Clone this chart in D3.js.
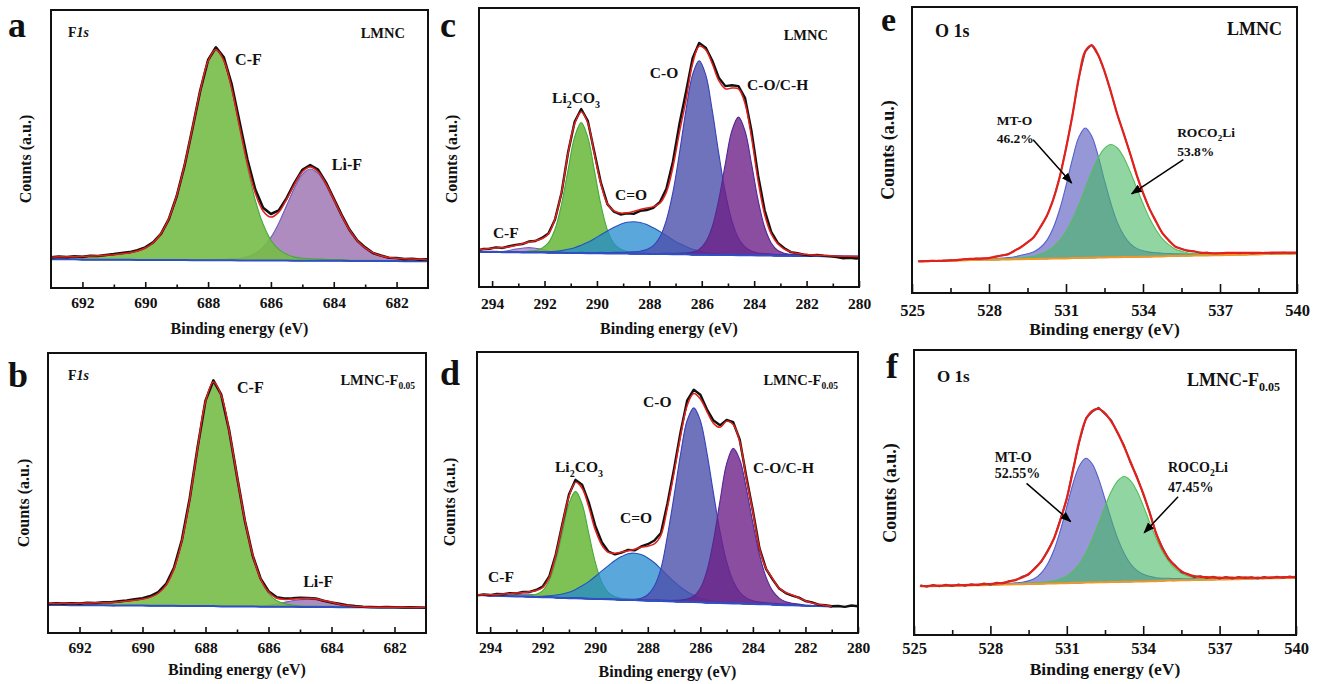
<!DOCTYPE html>
<html>
<head>
<meta charset="utf-8">
<script src="https://cdn.jsdelivr.net/npm/d3@7"></script>
<style>
  html, body { margin: 0; padding: 0; background: #fff; }
  svg { display: block; }
  text { font-family: "Liberation Serif", "Times New Roman", serif; font-weight: bold; fill: #111; }
</style>
</head>
<body>
<svg id="chart" width="1320" height="684"></svg>
<script>
// ---------- binding-energy grids (eV) ----------
const f1sEnergy = [693,692.75,692.5,692.25,692,691.75,691.5,691.25,691,690.75,690.5,690.25,690,689.75,689.5,689.25,689,688.75,688.5,688.25,688,687.75,687.5,687.25,687,686.75,686.5,686.25,686,685.75,685.5,685.25,685,684.75,684.5,684.25,684,683.75,683.5,683.25,683,682.75,682.5,682.25,682,681.75,681.5,681.25,681];
const c1sEnergyC = [294.6,294.35,294.1,293.85,293.6,293.35,293.1,292.85,292.6,292.35,292.1,291.85,291.6,291.35,291.1,290.85,290.6,290.35,290.1,289.85,289.6,289.35,289.1,288.85,288.6,288.35,288.1,287.85,287.6,287.35,287.1,286.85,286.6,286.35,286.1,285.85,285.6,285.35,285.1,284.85,284.6,284.35,284.1,283.85,283.6,283.35,283.1,282.85,282.6,282.35,282.1,281.85,281.6,281.35,281.1,280.85,280.6,280.35,280.1,279.85];
const c1sEnergyD = [294.5,294.25,294,293.75,293.5,293.25,293,292.75,292.5,292.25,292,291.75,291.5,291.25,291,290.75,290.5,290.25,290,289.75,289.5,289.25,289,288.75,288.5,288.25,288,287.75,287.5,287.25,287,286.75,286.5,286.25,286,285.75,285.5,285.25,285,284.75,284.5,284.25,284,283.75,283.5,283.25,283,282.75,282.5,282.25,282,281.75,281.5,281.25,281,280.75,280.5,280.25,280];
const o1sEnergy = [525.25,525.5,525.75,526,526.25,526.5,526.75,527,527.25,527.5,527.75,528,528.25,528.5,528.75,529,529.25,529.5,529.75,530,530.25,530.5,530.75,531,531.25,531.5,531.75,532,532.25,532.5,532.75,533,533.25,533.5,533.75,534,534.25,534.5,534.75,535,535.25,535.5,535.75,536,536.25,536.5,536.75,537,537.25,537.5,537.75,538,538.25,538.5,538.75,539,539.25,539.5,539.75,540];

// ---------- tick values ----------
const f1sMajorTicks = [692,690,688,686,684,682];
const f1sMinorTicks = [691,689,687,685,683];
const c1sMajorTicks = [294,292,290,288,286,284,282,280];
const c1sMinorTicks = [293,291,289,287,285,283,281];
const o1sMajorTicks = [525,528,531,534,537,540];
const o1sMinorTicks = [526.5,529.5,532.5,535.5,538.5];

// ---------- (a) F 1s, LMNC  (counts, a.u.) ----------
const aBackground = [10.3,10.3,10.3,10.3,10.2,10.2,10.2,10.2,10.2,10.2,10.2,10.1,10.1,10.1,10.1,10.1,10.1,10.1,10.0,10.0,10.0,10.0,10.0,10.0,9.9,9.9,9.9,9.9,9.9,9.9,9.9,9.8,9.8,9.8,9.8,9.8,9.8,9.8,9.7,9.7,9.7,9.7,9.7,9.7,9.7,9.6,9.6,9.6,9.6];
const aCF = [0.7,0.8,0.8,0.9,1.0,1.2,1.3,1.5,1.7,2.0,2.4,3.1,4.2,6.1,9.4,14.8,22.9,33.9,47.2,60.7,71.4,75.5,71.6,61.3,47.6,33.7,21.8,13.1,7.3,4.0,2.2,1.3,0.9,0.7,0.6,0.5,0.4,0.4,0.3,0.3,0.3,0.3,0.2,0.2,0.2,0.2,0.2,0.2,0.2];
const aLiF = [0.1,0.1,0.1,0.1,0.1,0.1,0.1,0.1,0.1,0.1,0.1,0.1,0.1,0.1,0.1,0.1,0.15,0.15,0.2,0.2,0.2,0.3,0.3,0.5,0.7,1.3,2.5,4.7,8.3,13.4,19.8,26.2,31.1,33.0,31.4,27.2,21.7,15.9,10.9,7.1,4.4,2.7,1.7,1.1,0.8,0.7,0.6,0.5,0.4];
const aFit = [11.1,11.2,11.2,11.3,11.3,11.5,11.6,11.8,12.0,12.3,12.7,13.3,14.4,16.3,19.6,25.0,33.2,44.2,57.4,70.9,81.6,85.8,81.9,71.8,58.2,44.9,34.2,27.7,25.5,27.3,31.9,37.3,41.8,43.5,41.8,37.5,31.9,26.1,20.9,17.1,14.4,12.7,11.6,11.0,10.7,10.5,10.4,10.3,10.2];
const aRaw = [11.0,11.3,11.1,11.4,11.2,11.6,11.5,11.9,12.2,12.6,12.9,13.6,14.6,16.4,19.5,24.8,33.0,44.0,57.3,71.0,82.0,86.6,83.0,73.3,59.8,46.3,35.5,28.9,26.6,27.9,32.3,37.8,42.5,44.2,42.6,38.0,32.2,26.3,21.0,17.1,14.6,12.6,11.7,10.9,10.8,10.4,10.5,10.2,10.3];

// ---------- (b) F 1s, LMNC-F0.05 ----------
const bBackground = [10.0,10.0,10.0,9.9,9.9,9.9,9.9,9.9,9.8,9.8,9.8,9.8,9.8,9.7,9.7,9.7,9.7,9.6,9.6,9.6,9.6,9.6,9.5,9.5,9.5,9.5,9.5,9.4,9.4,9.4,9.4,9.4,9.3,9.3,9.3,9.3,9.3,9.2,9.2,9.2,9.2,9.1,9.1,9.1,9.1,9.1,9.0,9.0,9.0];
const bCF = [0.45,0.5,0.55,0.6,0.7,0.8,0.9,1.0,1.1,1.3,1.6,1.9,2.3,3.1,4.5,7.4,13.2,23.3,38.3,56.5,73.0,80.0,75.3,62.8,46.6,30.8,18.2,9.7,4.8,2.2,1.1,0.6,0.4,0.3,0.3,0.2,0.2,0.2,0.1,0.1,0.1,0.1,0.1,0.1,0.1,0.1,0.1,0.1,0.1];
const bLiF = [0,0,0,0,0,0,0,0,0,0,0,0,0,0,0,0,0,0,0,0,0,0,0,0,0,0,0.1,0.2,0.5,0.9,1.5,2.1,2.6,2.8,2.6,2.1,1.5,0.9,0.5,0.2,0.1,0,0,0,0,0,0,0,0];
const bFit = [10.5,10.5,10.6,10.5,10.6,10.7,10.8,10.9,10.9,11.1,11.4,11.7,12.1,12.8,14.2,17.1,22.9,32.9,47.9,66.1,82.6,89.6,84.8,72.3,56.1,40.3,27.8,19.3,14.7,12.5,12.0,12.1,12.3,12.4,12.2,11.6,11.0,10.3,9.8,9.5,9.4,9.2,9.2,9.2,9.2,9.2,9.1,9.1,9.1];
const bRaw = [10.4,10.6,10.5,10.6,10.5,10.8,10.7,11.0,11.0,11.3,11.6,12.0,12.4,13.2,14.6,17.5,23.3,33.2,48.1,66.4,83.0,90.2,85.1,72.4,56.0,40.1,27.6,19.4,14.9,12.8,12.3,12.4,12.6,12.5,12.3,11.5,10.9,10.4,9.9,9.6,9.4,9.3,9.2,9.3,9.2,9.1,9.2,9.1,9.0];

// ---------- (c) C 1s, LMNC ----------
const cBackground = [12.7,12.6,12.6,12.6,12.5,12.5,12.5,12.4,12.4,12.4,12.4,12.3,12.3,12.3,12.2,12.2,12.2,12.1,12.1,12.1,12.0,12.0,12.0,12.0,11.9,11.9,11.9,11.8,11.8,11.8,11.7,11.7,11.7,11.6,11.6,11.6,11.5,11.5,11.5,11.5,11.4,11.4,11.4,11.3,11.3,11.3,11.2,11.2,11.2,11.1,11.1,11.1,11.1,11.0,11.0,11.0,10.9,10.9,10.9,10.8];
const cCF = [0,0,0,0.1,0.2,0.6,1.1,1.5,1.7,1.5,1.1,0.6,0.2,0.1,0,0,0,0,0,0,0,0,0,0,0,0,0,0,0,0,0,0,0,0,0,0,0,0,0,0,0,0,0,0,0,0,0,0,0,0,0,0,0,0,0,0,0,0,0,0];
const cLi2CO3 = [0.1,0.1,0.1,0.1,0.2,0.2,0.3,0.3,0.5,0.7,1.5,3.6,8.4,17.4,29.8,41.6,46.7,41.6,29.8,17.4,8.4,3.6,1.5,0.7,0.5,0.3,0.3,0.2,0.2,0.1,0.1,0.1,0.1,0.1,0.1,0.1,0,0,0,0,0,0,0,0,0,0,0,0,0,0,0,0,0,0,0,0,0,0,0,0];
const cCdO = [0,0,0,0,0,0,0,0,0,0.1,0.2,0.3,0.5,0.8,1.3,1.9,2.8,3.9,5.2,6.6,8.1,9.4,10.5,11.2,11.5,11.2,10.5,9.4,8.1,6.6,5.2,3.9,2.8,1.9,1.3,0.8,0.5,0.3,0.2,0.1,0,0,0,0,0,0,0,0,0,0,0,0,0,0,0,0,0,0,0,0];
const cCO = [0,0,0,0,0,0,0,0,0,0,0.1,0.1,0.1,0.1,0.1,0.1,0.2,0.2,0.2,0.3,0.3,0.4,0.4,0.5,0.7,0.9,1.5,3.0,6.1,12.2,22.3,36.3,51.8,64.5,69.5,64.5,51.8,36.3,22.3,12.2,6.1,3.0,1.5,0.9,0.7,0.5,0.4,0.4,0.3,0.3,0.1,0.1,0.1,0.1,0.1,0.1,0.1,0.1,0.1,0.1];
const cCOCH = [0,0,0,0,0,0,0,0,0,0,0,0,0,0,0,0,0,0,0,0,0.1,0.1,0.1,0.1,0.1,0.1,0.1,0.2,0.2,0.3,0.3,0.4,0.5,0.9,1.9,4.5,10.1,19.8,32.7,44.5,49.5,44.5,32.7,19.8,10.1,4.5,1.9,0.9,0.5,0.4,0.3,0.3,0.1,0.1,0.1,0,0,0,0,0];
const cFit = [13.2,13.5,13.8,14.0,14.1,14.4,14.9,15.5,16.1,16.6,17.3,19.0,24.5,34.0,48.0,58.5,62.8,58.8,47.8,37.0,29.8,27.3,26.5,26.6,27.1,27.8,28.3,28.8,30.0,34.0,43.0,55.5,67.0,80.0,86.3,85.0,80.0,74.0,71.0,71.3,71.0,65.8,53.5,38.0,26.0,19.0,15.5,13.6,12.6,12.0,11.7,11.5,11.4,11.3,11.2,11.1,11.0,11.0,10.9,10.9];
const cRaw = [13.0,13.6,13.7,14.2,14.0,14.6,15.1,15.4,16.3,16.5,17.6,19.2,24.2,33.8,48.3,59.2,63.8,59.6,48.4,37.4,29.7,27.0,26.0,26.4,26.2,27.3,27.6,28.4,30.4,35.2,45.0,58.5,70.0,82.0,87.5,85.8,81.2,75.0,72.0,72.3,72.0,67.8,55.8,40.0,27.5,19.8,15.8,13.9,12.5,12.1,11.6,11.3,11.5,11.2,11.0,10.7,10.3,10.5,10.2,10.6];

// ---------- (d) C 1s, LMNC-F0.05 (fit range ends at 281 eV) ----------
const dBackground = [13.5,13.4,13.3,13.3,13.2,13.1,13.0,13.0,12.9,12.8,12.7,12.7,12.6,12.5,12.4,12.4,12.3,12.2,12.1,12.1,12.0,11.9,11.8,11.8,11.7,11.6,11.5,11.5,11.4,11.3,11.2,11.1,11.1,11.0,10.9,10.8,10.8,10.7,10.6,10.5,10.5,10.4,10.3,10.2,10.2,10.1,10.0,9.9,9.9,9.8,9.7,9.6,9.6,9.5,9.4];
const dCF = [0,0,0,0,0.1,0.3,0.6,0.8,0.9,0.8,0.6,0.3,0.1,0,0,0,0,0,0,0,0,0,0,0,0,0,0,0,0,0,0,0,0,0,0,0,0,0,0,0,0,0,0,0,0,0,0,0,0,0,0,0,0,0,0];
const dLi2CO3 = [0.1,0.1,0.1,0.1,0.2,0.2,0.3,0.3,0.5,1.0,2.4,6.0,13.1,23.4,33.6,38.0,33.6,23.4,13.1,6.0,2.4,1.0,0.5,0.3,0.3,0.2,0.2,0.1,0.1,0.1,0.1,0.1,0.1,0.1,0.1,0.1,0,0,0,0,0,0,0,0,0,0,0,0,0,0,0,0,0,0,0];
const dCdO = [0,0,0,0,0,0,0,0,0.1,0.2,0.3,0.5,0.9,1.4,2.1,3.1,4.5,6.1,8.0,10.0,12.0,13.9,15.4,16.4,16.7,16.3,15.2,13.5,11.4,9.2,7.1,5.2,3.6,2.4,1.5,0.9,0.5,0.3,0.2,0.1,0,0,0,0,0,0,0,0,0,0,0,0,0,0,0];
const dCO = [0,0,0,0,0,0,0,0,0,0,0,0,0,0,0,0,0,0,0,0,0,0,0,0.1,0.3,0.8,2.1,5.2,11.5,23.4,37.6,52.7,64.6,69.1,64.7,53.3,38.9,25.3,14.8,7.9,4.0,2.1,1.2,0.8,0.6,0.5,0.4,0.4,0.3,0.3,0.1,0.1,0.1,0.1,0.1];
const dCOCH = [0,0,0,0,0,0,0,0,0,0,0,0,0,0,0,0.1,0.1,0.1,0.1,0.1,0.1,0.1,0.1,0.1,0.1,0.2,0.2,0.2,0.3,0.3,0.4,0.6,1.0,2.1,5.0,11.3,22.1,36.4,49.6,55.2,51.2,41.1,28.8,17.7,9.7,4.9,2.4,1.2,0.7,0.5,0.2,0.2,0.1,0.1,0];
const dFit = [13.5,13.6,13.6,13.7,13.9,14.0,14.2,14.4,14.7,15.1,16.2,19.8,27.8,38.5,48.6,53.6,51.5,45.0,36.7,31.3,28.7,28.4,28.8,29.3,29.8,30.5,30.9,31.7,34.8,44.8,57.0,70.2,81.0,85.2,83.3,78.8,74.6,73.2,75.4,74.2,68.1,55.0,43.2,30.1,23.0,19.4,15.9,14.4,13.5,12.5,11.5,10.7,10.2,9.8,9.5];
const dRaw = [13.4,13.7,13.5,13.9,13.8,14.2,14.1,14.6,14.6,15.3,16.5,20.1,28.0,38.9,49.3,54.5,52.8,46.6,38.2,32.3,29.0,28.0,28.6,29.6,29.4,30.8,31.6,32.9,35.6,46.2,58.5,71.6,82.8,86.6,84.8,79.6,75.6,73.9,75.8,75.0,68.8,55.6,43.5,30.2,22.8,19.1,15.8,14.2,13.3,12.6,11.4,10.9,10.1,9.9,9.5,9.6,9.3,9.8,9.5];

// ---------- (e) O 1s, LMNC ----------
const eBackground = [11.1,11.1,11.2,11.2,11.3,11.3,11.4,11.4,11.5,11.5,11.6,11.6,11.6,11.7,11.7,11.8,11.8,11.9,11.9,12.0,12.0,12.1,12.1,12.1,12.2,12.2,12.3,12.3,12.4,12.4,12.5,12.5,12.6,12.6,12.6,12.7,12.7,12.8,12.8,12.9,12.9,13.0,13.0,13.1,13.1,13.1,13.2,13.2,13.3,13.3,13.4,13.4,13.5,13.5,13.6,13.6,13.6,13.7,13.7,13.8];
const eMTO = [0.1,0.1,0.1,0.1,0.1,0.1,0.2,0.2,0.2,0.2,0.3,0.3,0.4,0.5,0.7,0.9,1.4,1.8,2.5,3.9,6.4,10.6,17.0,25.4,34.6,42.3,45.4,42.6,35.6,26.9,18.8,12.2,7.6,4.7,3.0,2.1,1.6,1.3,1.1,0.9,0.8,0.7,0.6,0.55,0.5,0.45,0.4,0.35,0.35,0.3,0.3,0.25,0.25,0.2,0.2,0.2,0.2,0.2,0.2,0.2];
const eROCO = [0,0,0,0,0,0,0,0,0,0,0.2,0.2,0.3,0.3,0.3,0.4,0.5,0.7,1.0,1.6,2.5,4.0,6.2,9.4,13.5,18.6,24.2,29.9,34.8,38.2,39.4,38.2,34.8,29.9,24.2,18.6,13.5,9.4,6.2,4.0,2.5,1.6,1.0,0.7,0.5,0.4,0.3,0.3,0.3,0.2,0.2,0.1,0.1,0.1,0.1,0.1,0.1,0.1,0.1,0.1];
const eFit = [11.1,11.1,11.2,11.2,11.3,11.4,11.5,11.8,11.9,12.0,12.1,12.2,12.7,13.1,13.6,14.8,16.1,17.7,19.6,23.0,26.9,32.6,40.4,50.5,62.1,75.2,84.5,86.6,83.3,77.5,70.3,62.4,55.7,48.7,41.4,35.0,29.5,25.1,21.0,18.4,16.3,15.4,14.8,14.5,14.1,14.0,13.9,13.9,14.0,14.0,14.0,14.0,14.0,14.0,14.0,14.1,14.1,14.1,14.1,14.1];
const eRaw = [11.0,11.2,11.1,11.3,11.2,11.5,11.4,11.8,11.8,12.1,12.0,12.3,12.6,13.2,13.5,14.9,16.0,17.8,19.5,23.1,26.8,32.7,40.3,50.6,62.0,75.3,84.4,86.8,83.2,77.6,70.2,62.5,55.6,48.8,41.3,35.1,29.4,25.2,20.9,18.5,16.2,15.5,14.7,14.6,14.0,14.2,13.8,14.0,13.9,14.1,13.8,14.0,13.7,13.9,14.1,13.8,14.0,14.2,13.9,14.1];

// ---------- (f) O 1s, LMNC-F0.05 ----------
const fBackground = [17.0,17.1,17.1,17.2,17.2,17.3,17.3,17.4,17.4,17.5,17.5,17.6,17.6,17.7,17.7,17.8,17.8,17.9,17.9,18.0,18.1,18.1,18.2,18.2,18.3,18.3,18.4,18.4,18.5,18.5,18.6,18.6,18.7,18.7,18.8,18.8,18.9,18.9,19.0,19.1,19.1,19.2,19.2,19.3,19.3,19.4,19.4,19.5,19.5,19.6,19.6,19.7,19.7,19.8,19.8,19.9,19.9,20.0,20.0,20.1];
const fMTO = [0.1,0.1,0.1,0.1,0.1,0.1,0.1,0.1,0.1,0.2,0.2,0.2,0.3,0.3,0.4,0.5,0.7,1.1,2.0,3.8,6.9,11.8,18.6,26.8,35.0,41.2,43.6,41.6,36.3,29.2,21.8,15.2,10.0,6.3,3.9,2.5,1.7,1.2,0.9,0.8,0.7,0.6,0.5,0.5,0.4,0.4,0.4,0.3,0.3,0.3,0.3,0.3,0.3,0.2,0.2,0.2,0.2,0.2,0.2,0.2];
const fROCO = [0,0,0,0,0,0,0,0,0,0,0.1,0.1,0.1,0.2,0.2,0.2,0.3,0.3,0.4,0.5,0.6,0.9,1.5,2.5,4.2,6.8,10.4,15.2,20.7,26.6,31.8,35.5,36.9,35.5,31.8,26.6,20.7,15.2,10.4,6.8,4.2,2.5,1.5,0.9,0.6,0.5,0.4,0.3,0.3,0.2,0.2,0.2,0.1,0.1,0.1,0.1,0.1,0.1,0.1,0.1];
const fFit = [17.2,17.2,17.3,17.3,17.4,17.4,17.5,17.5,17.6,17.7,17.8,17.9,18.1,18.3,18.8,19.4,20.2,21.4,23.3,25.9,29.4,34.0,40.4,48.0,58.0,68.4,75.7,78.6,79.3,77.8,74.9,71.0,66.1,60.8,55.3,49.7,42.9,35.9,30.4,26.8,24.2,22.4,21.2,20.7,20.4,20.3,20.2,20.1,20.1,20.1,20.1,20.2,20.1,20.1,20.1,20.2,20.2,20.3,20.3,20.4];
const fRaw = [17.5,16.9,17.6,17.0,17.7,17.1,17.8,17.2,17.9,17.4,18.1,17.6,18.4,18.1,19.0,19.2,20.5,21.2,23.6,25.7,29.7,33.8,40.7,47.7,58.4,68.1,76.1,78.3,79.8,77.5,75.3,70.7,66.5,60.4,55.7,49.4,43.3,35.6,30.8,26.5,24.5,22.0,21.5,20.3,20.7,19.9,20.5,19.8,20.4,19.8,20.4,19.9,20.3,19.8,20.4,19.9,20.5,20.0,20.6,20.1];

// ---------- colours of the fitted components ----------
const palette = {
  greenF:   { fill: "rgb(118,189,72)",  opacity: 0.9,  stroke: "rgb(72,168,62)" },
  purpleF:  { fill: "rgb(168,130,186)", opacity: 0.92, stroke: "rgb(105,95,190)" },
  cfSmall:  { fill: "rgb(160,120,200)", opacity: 0.7,  stroke: "rgb(120,90,190)" },
  li2co3:   { fill: "rgb(108,184,62)",  opacity: 0.88, stroke: "rgb(70,170,60)" },
  cdo:      { fill: "rgb(35,138,207)",  opacity: 0.75, stroke: "rgb(40,80,190)" },
  co:       { fill: "rgb(75,80,170)",   opacity: 0.8,  stroke: "rgb(55,65,185)" },
  coch:     { fill: "rgb(109,32,135)",  opacity: 0.8,  stroke: "rgb(85,40,150)" },
  mto:      { fill: "rgb(140,142,212)", opacity: 0.92, stroke: "rgb(85,95,205)" },
  roco:     { fill: "rgb(70,185,100)",  opacity: 0.6,  stroke: "rgb(85,190,90)" }
};

// label fragments (sub = subscript, it = italic)
const T = (t, o) => Object.assign({ t }, o || {});

const panels = [
  { letter: "a", letterPos: [8, 37], letterSize: 36, box: [51, 10, 428, 288], domain: [693, 681], energy: f1sEnergy,
    background: aBackground, fit: aFit, raw: aRaw, baseColor: "#2f4fc4",
    components: [ { values: aLiF, style: palette.purpleF }, { values: aCF, style: palette.greenF } ],
    major: f1sMajorTicks, minor: f1sMinorTicks, tickLen: [6, 3.5], tickGap: 9, tickFont: 15.5,
    xTitle: { baseline: 334, size: 16 }, yTitle: { x: 25, y: 159, size: 16 },
    corner: [ { segs: [T("F"), T("1s", { it: true })], dx: 17, dy: 27, anchor: "start", size: 14 },
              { segs: [T("LMNC")], dx: -23, dy: 28, anchor: "end", size: 14.5 } ],
    peaks: [ { segs: [T("C-F")], at: [687.14, 80.2], size: 16 },
             { segs: [T("Li-F")], at: [684.06, 42.4], size: 16 } ],
    arrows: [], rawStyle: { color: "#111", width: 2.6 }, fitWidth: 1.5 },

  { letter: "b", letterPos: [8, 387], letterSize: 36, box: [48, 353, 426, 633], domain: [693, 681], energy: f1sEnergy,
    background: bBackground, fit: bFit, raw: bRaw, baseColor: "#2f4fc4",
    components: [ { values: bLiF, style: palette.purpleF }, { values: bCF, style: palette.greenF } ],
    major: f1sMajorTicks, minor: f1sMinorTicks, tickLen: [6, 3.5], tickGap: 9, tickFont: 15.5,
    xTitle: { baseline: 675, size: 16 }, yTitle: { x: 23, y: 503, size: 16 },
    corner: [ { segs: [T("F"), T("1s", { it: true })], dx: 20, dy: 27, anchor: "start", size: 14 },
              { segs: [T("LMNC-F"), T("0.05", { sub: true })], dx: -11, dy: 32, anchor: "end", size: 14.5, subSize: 9.5 } ],
    peaks: [ { segs: [T("C-F")], at: [687.0, 85.7], size: 16 },
             { segs: [T("Li-F")], at: [684.9, 16.4], size: 16 } ],
    arrows: [], rawStyle: { color: "#111", width: 2.6 }, fitWidth: 1.5 },

  { letter: "c", letterPos: [440, 37], letterSize: 36, box: [479, 8, 859, 287], domain: [294.5, 280], energy: c1sEnergyC,
    background: cBackground, fit: cFit, raw: cRaw, baseColor: "#2f4fc4",
    components: [ { values: cCF, style: palette.cfSmall }, { values: cLi2CO3, style: palette.li2co3 },
                  { values: cCdO, style: palette.cdo }, { values: cCO, style: palette.co },
                  { values: cCOCH, style: palette.coch } ],
    major: c1sMajorTicks, minor: c1sMinorTicks, tickLen: [6, 3.5], tickGap: 10.5, tickFont: 15.5,
    xTitle: { baseline: 334, size: 16 }, yTitle: { x: 451, y: 159, size: 16 },
    corner: [ { segs: [T("LMNC")], dx: -31, dy: 32, anchor: "end", size: 14.5 } ],
    peaks: [ { segs: [T("Li"), T("2", { sub: true }), T("CO"), T("3", { sub: true })], at: [291.71, 66.0], size: 15.5, subSize: 10 },
             { segs: [T("C-O")], at: [287.98, 74.9], size: 15.5 },
             { segs: [T("C-O/C-H")], at: [284.27, 70.6], size: 15.5 },
             { segs: [T("C=O")], at: [289.31, 31.2], size: 15.5 },
             { segs: [T("C-F")], at: [293.97, 17.6], size: 15.5 } ],
    arrows: [], rawStyle: { color: "#111", width: 2.4 }, fitWidth: 1.5 },

  { letter: "d", letterPos: [440, 385], letterSize: 36, box: [477, 352, 858, 633], domain: [294.5, 280], energy: c1sEnergyD,
    background: dBackground, fit: dFit, raw: dRaw, baseColor: "#2f4fc4",
    components: [ { values: dCF, style: palette.cfSmall }, { values: dLi2CO3, style: palette.li2co3 },
                  { values: dCdO, style: palette.cdo }, { values: dCO, style: palette.co },
                  { values: dCOCH, style: palette.coch } ],
    major: c1sMajorTicks, minor: c1sMinorTicks, tickLen: [6, 3.5], tickGap: 9, tickFont: 15.5,
    xTitle: { baseline: 677, size: 16 }, yTitle: { x: 449, y: 502, size: 16 },
    corner: [ { segs: [T("LMNC-F"), T("0.05", { sub: true })], dx: -20, dy: 33, anchor: "end", size: 14.5, subSize: 9.5 } ],
    peaks: [ { segs: [T("C-O")], at: [288.18, 80.4], size: 15.5 },
             { segs: [T("Li"), T("2", { sub: true }), T("CO"), T("3", { sub: true })], at: [291.53, 57.3], size: 15.5, subSize: 10 },
             { segs: [T("C=O")], at: [289.06, 39.1], size: 15.5 },
             { segs: [T("C-O/C-H")], at: [284.0, 56.9], size: 15.5 },
             { segs: [T("C-F")], at: [294.08, 18.1], size: 15.5 } ],
    arrows: [], rawStyle: { color: "#111", width: 2.4 }, fitWidth: 1.5 },

  { letter: "e", letterPos: [881, 31], letterSize: 34, box: [912, 7, 1297, 293], domain: [525, 540], energy: o1sEnergy,
    background: eBackground, fit: eFit, raw: eRaw, baseColor: "#f0962a",
    components: [ { values: eMTO, style: palette.mto }, { values: eROCO, style: palette.roco } ],
    major: o1sMajorTicks, minor: o1sMinorTicks, tickLen: [9, 5], tickGap: 11.5, tickFont: 16.5,
    xTitle: { baseline: 335, size: 17.5 }, yTitle: { x: 888, y: 150, size: 18 },
    corner: [ { segs: [T("O 1s")], dx: 23, dy: 30, anchor: "start", size: 18 },
              { segs: [T("LMNC")], dx: -15, dy: 28, anchor: "end", size: 18 } ],
    peaks: [ { segs: [T("MT-O")], at: [528.30, 58.8], size: 13.5 },
             { segs: [T("46.2%")], at: [528.30, 52.6], size: 13.5 },
             { segs: [T("ROCO"), T("2", { sub: true }), T("Li")], at: [535.33, 54.7], size: 13.5, subSize: 9 },
             { segs: [T("53.8%")], at: [535.33, 48.0], size: 13.5 } ],
    arrows: [ [[529.72, 53.6], [531.22, 38.5]], [[535.57, 46.6], [533.56, 34.7]] ],
    rawStyle: { color: "#555", width: 1.5 }, fitWidth: 2.2 },

  { letter: "f", letterPos: [886, 378], letterSize: 36, box: [914, 350, 1296, 635], domain: [525, 540], energy: o1sEnergy,
    background: fBackground, fit: fFit, raw: fRaw, baseColor: "#f0962a",
    components: [ { values: fMTO, style: palette.mto }, { values: fROCO, style: palette.roco } ],
    major: o1sMajorTicks, minor: o1sMinorTicks, tickLen: [9, 5], tickGap: 7, tickFont: 16.5,
    xTitle: { baseline: 675, size: 17.5 }, yTitle: { x: 890, y: 493, size: 18 },
    corner: [ { segs: [T("O 1s")], dx: 23, dy: 32, anchor: "start", size: 17 },
              { segs: [T("LMNC-F"), T("0.05", { sub: true })], dx: -16, dy: 36, anchor: "end", size: 18, subSize: 12 } ],
    peaks: [ { segs: [T("MT-O")], at: [528.17, 60.7], size: 14 },
             { segs: [T("52.55%")], at: [528.17, 55.1], size: 14 },
             { segs: [T("ROCO"), T("2", { sub: true }), T("Li")], at: [534.97, 57.2], size: 14, subSize: 9.5 },
             { segs: [T("47.45%")], at: [534.97, 50.2], size: 14 } ],
    arrows: [ [[529.42, 53.2], [531.15, 39.8]], [[535.37, 48.5], [534.04, 35.9]] ],
    rawStyle: { color: "#4a4a4a", width: 1.7 }, fitWidth: 2.2 }
];

const svg = d3.select("#chart");
const defs = svg.append("defs");
defs.append("marker")
  .attr("id", "arrowhead").attr("viewBox", "0 0 10 10")
  .attr("refX", 9).attr("refY", 5)
  .attr("markerWidth", 11).attr("markerHeight", 11)
  .attr("markerUnits", "userSpaceOnUse").attr("orient", "auto")
  .append("path").attr("d", "M0,1.2 L10,5 L0,8.8 Z").attr("fill", "#000");

// writes a run of text fragments (plain, italic, subscript) into a <text>
function writeSegments(textSel, segs, size, subSize) {
  const shift = size * 0.3;
  let lowered = false;
  segs.forEach(s => {
    const ts = textSel.append("tspan").text(s.t);
    if (s.it) ts.attr("font-style", "italic");
    if (s.sub) {
      ts.attr("font-size", subSize || size * 0.65);
      if (!lowered) { ts.attr("dy", shift); lowered = true; }
    } else if (lowered) {
      ts.attr("dy", -shift); lowered = false;
    }
  });
}

panels.forEach(p => {
  const [x0, y0, x1, y1] = p.box;
  const x = d3.scaleLinear().domain(p.domain).range([x0, x1]);
  const y = d3.scaleLinear().domain([0, 100]).range([y1, y0]);
  const g = svg.append("g").attr("class", "panel-" + p.letter);

  const clipId = "clip-" + p.letter;
  defs.append("clipPath").attr("id", clipId)
    .append("rect").attr("x", x0).attr("y", y0).attr("width", x1 - x0).attr("height", y1 - y0);
  const plot = g.append("g").attr("clip-path", `url(#${clipId})`);

  const E = p.energy;
  const smooth = d3.curveCatmullRom.alpha(0.5);

  // fitted components, stacked on the background
  const area = d3.area()
    .x(d => x(d.e)).y0(d => y(d.lo)).y1(d => y(d.hi)).curve(smooth);
  p.components.forEach(c => {
    const pts = c.values.map((v, i) => ({ e: E[i], lo: p.background[i], hi: p.background[i] + v }));
    plot.append("path").datum(pts)
      .attr("d", area)
      .attr("fill", c.style.fill).attr("fill-opacity", c.style.opacity)
      .attr("stroke", c.style.stroke).attr("stroke-width", 1.1);
  });

  // background line
  const straight = d3.line().x(d => x(d[0])).y(d => y(d[1]));
  plot.append("path").datum(p.background.map((v, i) => [E[i], v]))
    .attr("d", straight).attr("fill", "none")
    .attr("stroke", p.baseColor).attr("stroke-width", 2);

  // measured spectrum
  plot.append("path").datum(p.raw.map((v, i) => [E[i], v]))
    .attr("d", straight).attr("fill", "none")
    .attr("stroke", p.rawStyle.color).attr("stroke-width", p.rawStyle.width)
    .attr("stroke-linejoin", "round");

  // envelope of the fit
  const curved = d3.line().x(d => x(d[0])).y(d => y(d[1])).curve(smooth);
  plot.append("path").datum(p.fit.map((v, i) => [E[i], v]))
    .attr("d", curved).attr("fill", "none")
    .attr("stroke", "#e4201c").attr("stroke-width", p.fitWidth)
    .attr("stroke-linejoin", "round");

  // bottom axis with inward ticks
  const majorAxis = d3.axisBottom(x).tickValues(p.major)
    .tickSizeInner(-p.tickLen[0]).tickSizeOuter(0).tickPadding(p.tickGap)
    .tickFormat(d3.format("d"));
  const ax = g.append("g").attr("transform", `translate(0,${y1})`).call(majorAxis);
  ax.select(".domain").remove();
  ax.attr("font-size", p.tickFont);
  ax.selectAll(".tick line").attr("stroke", "#111").attr("stroke-width", 1.6);
  ax.selectAll(".tick text").attr("fill", "#111");

  const minorAxis = d3.axisBottom(x).tickValues(p.minor)
    .tickSizeInner(-p.tickLen[1]).tickSizeOuter(0).tickFormat("");
  const mx = g.append("g").attr("transform", `translate(0,${y1})`).call(minorAxis);
  mx.select(".domain").remove();
  mx.selectAll(".tick line").attr("stroke", "#111").attr("stroke-width", 1.6);

  // frame
  g.append("rect").attr("x", x0).attr("y", y0).attr("width", x1 - x0).attr("height", y1 - y0)
    .attr("fill", "none").attr("stroke", "#111").attr("stroke-width", 2);

  // axis titles
  g.append("text").attr("x", (x0 + x1) / 2).attr("y", p.xTitle.baseline)
    .attr("text-anchor", "middle").attr("font-size", p.xTitle.size)
    .text("Binding energy (eV)");
  g.append("text")
    .attr("transform", `translate(${p.yTitle.x},${p.yTitle.y}) rotate(-90)`)
    .attr("text-anchor", "middle").attr("dominant-baseline", "central")
    .attr("font-size", p.yTitle.size)
    .text("Counts (a.u.)");

  // panel letter
  g.append("text").attr("x", p.letterPos[0]).attr("y", p.letterPos[1])
    .attr("font-size", p.letterSize).text(p.letter);

  // corner labels
  p.corner.forEach(c => {
    const t = g.append("text")
      .attr("x", c.anchor === "end" ? x1 + c.dx : x0 + c.dx)
      .attr("y", y0 + c.dy)
      .attr("text-anchor", c.anchor).attr("font-size", c.size);
    writeSegments(t, c.segs, c.size, c.subSize);
  });

  // peak labels
  p.peaks.forEach(c => {
    const t = g.append("text").attr("x", x(c.at[0])).attr("y", y(c.at[1]))
      .attr("font-size", c.size);
    writeSegments(t, c.segs, c.size, c.subSize);
  });

  // pointer arrows
  p.arrows.forEach(a => {
    g.append("line")
      .attr("x1", x(a[0][0])).attr("y1", y(a[0][1]))
      .attr("x2", x(a[1][0])).attr("y2", y(a[1][1]))
      .attr("stroke", "#000").attr("stroke-width", 1.5)
      .attr("marker-end", "url(#arrowhead)");
  });
});
</script>
</body>
</html>
